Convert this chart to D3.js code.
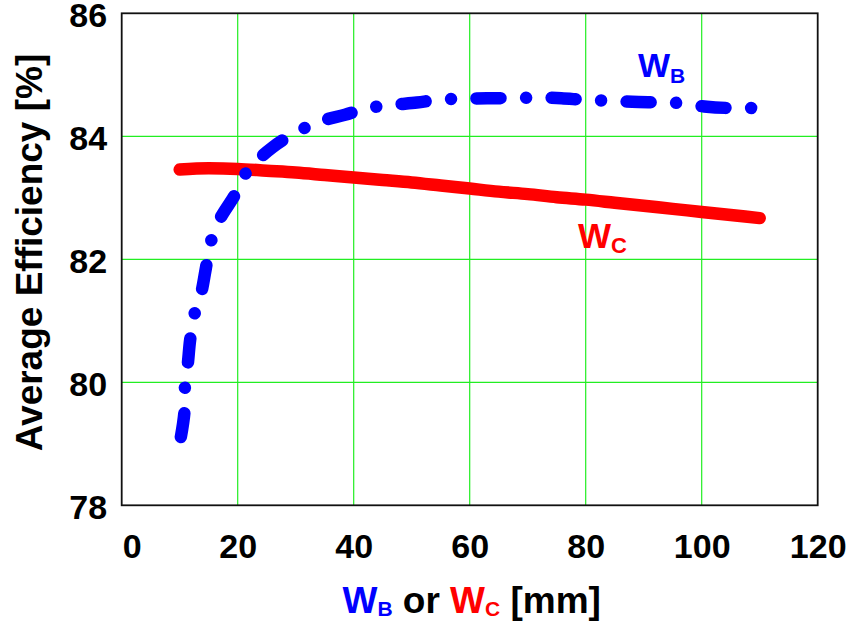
<!DOCTYPE html>
<html>
<head>
<meta charset="utf-8">
<script src="https://cdn.jsdelivr.net/npm/d3@7"></script>
<style>
  html, body { margin: 0; padding: 0; background: #fff; }
  svg { display: block; }
  text { font-family: "Liberation Sans", Arial, sans-serif; font-weight: bold; }
</style>
</head>
<body>
<svg id="chart" width="852" height="623"></svg>
<script>
// W_B sweep (blue dash-dot curve): width [mm] vs average efficiency [%]
const wbWidth = [10.2, 10.8, 10.9, 11.4, 11.8, 12.5, 13.7, 14.5, 15.3, 16.9, 19.4, 21.7, 26.0, 30.2, 34.1, 38.5, 42.5, 46.6, 50.9, 55.2, 59.0, 63.0, 67.5, 71.6, 75.8, 79.9, 83.9, 88.0, 92.2, 96.3, 100.9, 104.9, 108.8];
const wbEff   = [79.11, 79.50, 79.92, 80.30, 80.69, 81.09, 81.45, 81.85, 82.26, 82.65, 83.03, 83.44, 83.82, 84.07, 84.24, 84.35, 84.46, 84.51, 84.55, 84.60, 84.61, 84.62, 84.62, 84.63, 84.62, 84.59, 84.58, 84.56, 84.55, 84.54, 84.48, 84.46, 84.46];

// W_C sweep (red solid curve)
const wcWidth = [10, 15, 20, 25, 30, 35, 40, 45, 50, 55, 60, 65, 70, 75, 80, 85, 90, 95, 100, 105, 110];
const wcEff   = [83.46, 83.48, 83.47, 83.44, 83.41, 83.37, 83.33, 83.29, 83.25, 83.20, 83.15, 83.10, 83.06, 83.01, 82.97, 82.92, 82.87, 82.82, 82.77, 82.72, 82.67];

// Axis ticks
const xTicks = [0, 20, 40, 60, 80, 100, 120];
const yTicks = [78, 80, 82, 84, 86];

const svg = d3.select("#chart");
const plotL = 121.7, plotR = 817.7, plotT = 13.3, plotB = 505.3;

const x = d3.scaleLinear().domain([0, 120]).range([plotL, plotR]);
const y = d3.scaleLinear().domain([78, 86]).range([plotB, plotT]);

// Gridlines
const grid = svg.append("g");
grid.selectAll("line.gx")
  .data(xTicks.filter(d => d > 0 && d < 120))
  .join("line")
  .attr("x1", d => x(d)).attr("x2", d => x(d))
  .attr("y1", plotT).attr("y2", plotB)
  .attr("stroke", "#22ee22").attr("stroke-width", 1.2);
grid.selectAll("line.gy")
  .data(yTicks.filter(d => d > 78 && d < 86))
  .join("line")
  .attr("x1", plotL).attr("x2", plotR)
  .attr("y1", d => y(d)).attr("y2", d => y(d))
  .attr("stroke", "#22ee22").attr("stroke-width", 1.2);

// Axes (labels only)
const yAxis = svg.append("g")
  .attr("transform", `translate(${plotL},0)`)
  .call(d3.axisLeft(y).tickValues(yTicks).tickSize(0).tickPadding(14.5).tickFormat(d3.format("d")));
yAxis.select(".domain").remove();
yAxis.selectAll("text")
  .attr("dy", "0.39em")
  .style("font-size", "34px").style("font-family", "'Liberation Sans', Arial, sans-serif")
  .style("font-weight", "bold").attr("fill", "#000");

const xAxis = svg.append("g")
  .attr("transform", `translate(0,${plotB})`)
  .call(d3.axisBottom(x).tickValues(xTicks).tickSize(0).tickPadding(28.5).tickFormat(d3.format("d")));
xAxis.select(".domain").remove();
xAxis.selectAll("text")
  .attr("dx", d => d === 0 ? 10 : 0)
  .style("font-size", "34px").style("font-family", "'Liberation Sans', Arial, sans-serif")
  .style("font-weight", "bold").attr("fill", "#000");

// Curves
const wcLine = d3.line().x(d => x(d[0])).y(d => y(d[1])).curve(d3.curveMonotoneX);
const wbLine = d3.line().x(d => x(d[0])).y(d => y(d[1])).curve(d3.curveCatmullRom.alpha(0.5));

svg.append("path")
  .datum(d3.zip(wcWidth, wcEff))
  .attr("d", wcLine)
  .attr("fill", "none").attr("stroke", "#ff0000")
  .attr("stroke-width", 12.5).attr("stroke-linecap", "round").attr("stroke-linejoin", "round");

const wbPath = svg.append("path")
  .datum(d3.zip(wbWidth, wbEff))
  .attr("d", wbLine)
  .attr("fill", "none").attr("stroke", "#0000ff")
  .attr("stroke-width", 12.5).attr("stroke-linecap", "round").attr("stroke-linejoin", "round");

// Dash-dot pattern: starts on a dash and finishes on a dot just before the path end
const dashLen = 24;
const totalLen = wbPath.node().getTotalLength();
const period = (totalLen - dashLen / 2 - 2) / 10.5;
const gap = (period - dashLen) / 2;
wbPath.attr("stroke-dasharray", `${dashLen},${gap},0.01,${gap}`);

// Plot frame
svg.append("rect")
  .attr("x", plotL).attr("y", plotT)
  .attr("width", plotR - plotL).attr("height", plotB - plotT)
  .attr("fill", "none").attr("stroke", "#111").attr("stroke-width", 1.8);

// Curve labels
const lb = svg.append("text").attr("x", 638).attr("y", 77).attr("fill", "#0000ff");
lb.append("tspan").style("font-size", "34px").text("W");
lb.append("tspan").style("font-size", "21px").attr("dy", 6).text("B");

const lc = svg.append("text").attr("x", 578).attr("y", 248).attr("fill", "#ff0000");
lc.append("tspan").style("font-size", "35px").text("W");
lc.append("tspan").style("font-size", "22px").attr("dy", 5).text("C");

// Axis titles
const xt = svg.append("text")
  .attr("x", (plotL + plotR) / 2 + 2).attr("y", 613)
  .attr("text-anchor", "middle").attr("fill", "#000");
xt.append("tspan").style("font-size", "37px").attr("fill", "#0000ff").text("W");
xt.append("tspan").style("font-size", "21px").attr("fill", "#0000ff").attr("dy", 3).text("B");
xt.append("tspan").style("font-size", "37px").attr("dy", -3).text(" or ");
xt.append("tspan").style("font-size", "37px").attr("fill", "#ff0000").text("W");
xt.append("tspan").style("font-size", "21px").attr("fill", "#ff0000").attr("dy", 3).text("C");
xt.append("tspan").style("font-size", "37px").attr("dy", -3).text(" [mm]");

svg.append("text")
  .attr("transform", `translate(42,${252.5}) rotate(-90)`)
  .attr("text-anchor", "middle").attr("fill", "#000")
  .style("font-size", "37px")
  .text("Average Efficiency [%]");
</script>
</body>
</html>
